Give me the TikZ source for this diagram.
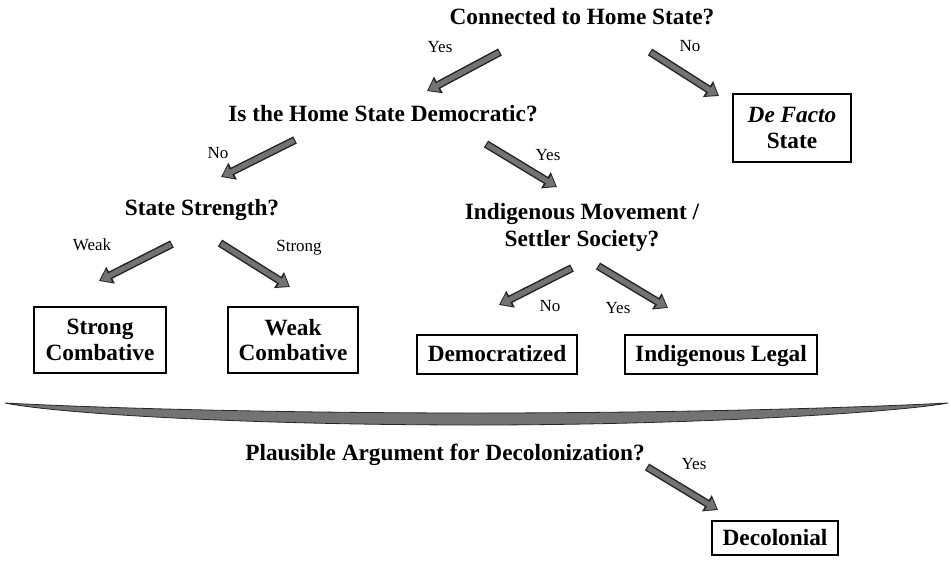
\documentclass[tikz,border=0pt]{standalone}
\usepackage{fontspec}
\setmainfont{Liberation Serif}
\usetikzlibrary{arrows.meta}
\tikzset{
  q/.style={font=\fontsize{23.3}{27}\selectfont\bfseries, inner sep=0pt, align=center},
  lbl/.style={font=\fontsize{17}{19}\selectfont, inner sep=0pt},
  box/.style={draw=black, line width=1.3pt, font=\fontsize{23.3}{25.5}\selectfont\bfseries, align=center, inner sep=0pt},
  one/.style={text height=15.5pt, text depth=1pt},
  blk/.style={draw=black!55, line width=5pt, shorten >=1.6pt, shorten <=1.2pt,
    -{Triangle[length=9.5pt,width=13pt]},
    preaction={draw=black!85, line width=8pt, shorten >=0pt, shorten <=0pt, -{Triangle[length=13pt,width=18pt]}}}
}
\begin{document}
\begin{tikzpicture}[x=1pt,y=-1pt]
\useasboundingbox (0,0) rectangle (951,562);
% questions
\node[q] (q1) at (582,17) {Connected to Home State?};
\node[q] (q2) at (383,114) {Is the Home State Democratic?};
\node[q] (q3) at (202,210) {State Strength?};
\node[q] (q4) at (582,227) {Indigenous Movement /\\Settler Society?};
\node[q] (q5) at (445,455) {Plausible Argument for Decolonization?};
% boxes
\node[box, minimum width=118pt, minimum height=68pt] (defacto) at (792,128) {\textit{De Facto}\\State};
\node[box, minimum width=132pt, minimum height=66pt] (strong) at (100,340) {Strong\\Combative};
\node[box, minimum width=130pt, minimum height=66pt] (weak) at (293,340) {Weak\\Combative};
\node[box, one, minimum width=160pt, minimum height=39pt] (demo) at (497,354.5) {Democratized};
\node[box, one, minimum width=192pt, minimum height=39pt] (indig) at (721,354.5) {Indigenous Legal};
\node[box, one, minimum width=126pt, minimum height=34pt] (decol) at (775,538) {Decolonial};
% labels
\node[lbl] (l1) at (440,47) {Yes};
\node[lbl] (l2) at (690,46) {No};
\node[lbl] (l3) at (218,153) {No};
\node[lbl] (l4) at (548,155) {Yes};
\node[lbl] (l5) at (92,245) {Weak};
\node[lbl] (l6) at (299,248) {Strong};
\node[lbl] (l7) at (550,306) {No};
\node[lbl] (l8) at (618,308) {Yes};
\node[lbl] (l9) at (694,464) {Yes};
% arrow end points
\coordinate (a1s) at (500,52);  \coordinate (a1e) at (427,91);
\coordinate (a2s) at (650,52);  \coordinate (a2e) at (719,96);
\coordinate (a3s) at (295,140); \coordinate (a3e) at (221,177);
\coordinate (a4s) at (486,144); \coordinate (a4e) at (557,187);
\coordinate (a5s) at (172,244); \coordinate (a5e) at (99,281);
\coordinate (a6s) at (220,243); \coordinate (a6e) at (290,287);
\coordinate (a7s) at (572,268); \coordinate (a7e) at (499,305);
\coordinate (a8s) at (598,266); \coordinate (a8e) at (668,308);
\coordinate (a9s) at (647,467); \coordinate (a9e) at (718,510);
\foreach \i in {1,...,9} {\draw[blk] (a\i s) -- (a\i e);}
% divider
\filldraw[fill=black!55, draw=black!85, line width=0.8pt]
  (5,403) .. controls (120,409) and (300,413) .. (476,413)
  .. controls (650,413) and (830,409) .. (948,403)
  .. controls (900,412) and (700,425) .. (476,425)
  .. controls (250,425) and (60,414) .. (5,403) -- cycle;
\end{tikzpicture}
\end{document}
